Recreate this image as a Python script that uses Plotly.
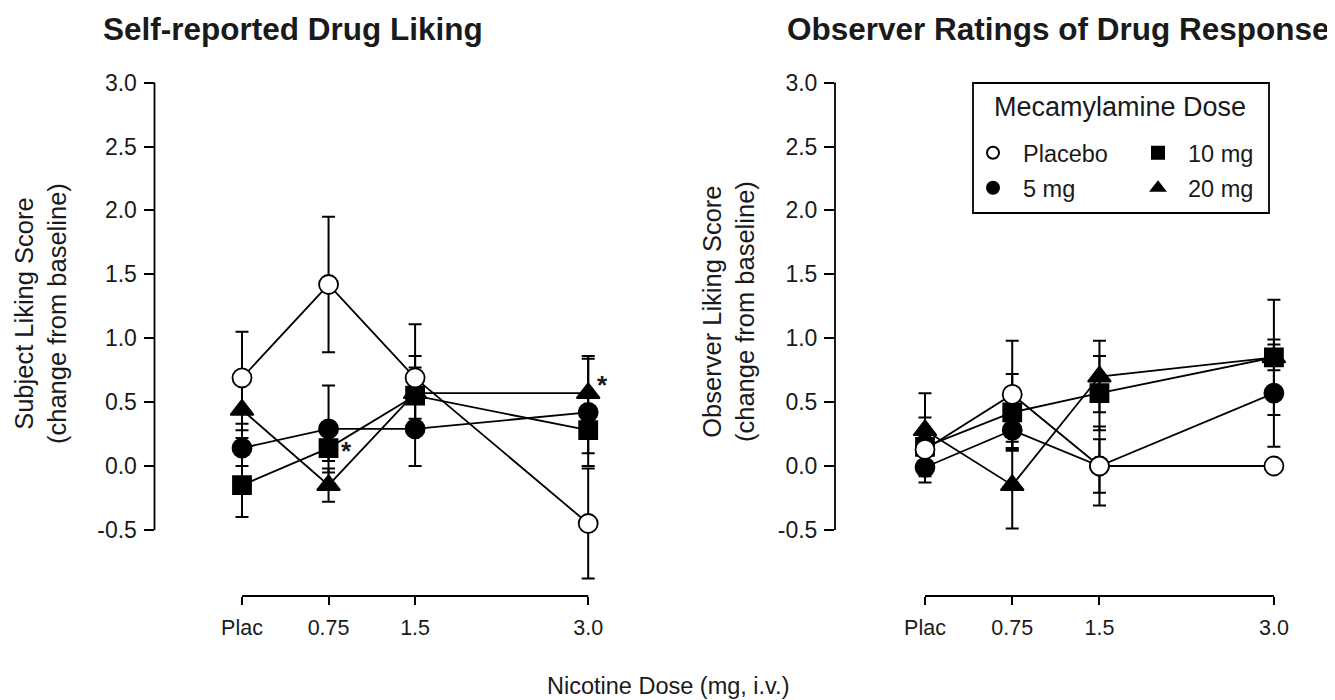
import plotly.graph_objects as go

# ---------------- data ----------------
doses = [0, 0.75, 1.5, 3.0]
dose_labels = ["Plac", "0.75", "1.5", "3.0"]
y_ticks = [-0.5, 0.0, 0.5, 1.0, 1.5, 2.0, 2.5, 3.0]
y_tick_labels = ["-0.5", "0.0", "0.5", "1.0", "1.5", "2.0", "2.5", "3.0"]

# Self-reported drug liking (left panel)
self_placebo = [0.69, 1.42, 0.69, -0.45]
self_placebo_err = [0.36, 0.53, 0.42, 0.43]
self_5mg = [0.14, 0.29, 0.29, 0.42]
self_5mg_err = [0.14, 0.34, 0.29, 0.42]
self_10mg = [-0.15, 0.14, 0.55, 0.28]
self_10mg_err = [0.25, 0.10, 0.31, 0.18]
self_20mg = [0.44, -0.15, 0.57, 0.57]
self_20mg_err = [0.22, 0.13, 0.20, 0.29]

# Observer ratings (right panel)
obs_placebo = [0.13, 0.56, 0.0, 0.0]
obs_placebo_err = [0.10, 0.42, 0.21, 0.0]
obs_5mg = [-0.01, 0.28, 0.0, 0.57]
obs_5mg_err = [0.12, 0.15, 0.31, 0.42]
obs_10mg = [0.15, 0.42, 0.57, 0.85]
obs_10mg_err = [0.23, 0.30, 0.29, 0.45]
obs_20mg = [0.28, -0.15, 0.70, 0.85]
obs_20mg_err = [0.29, 0.34, 0.28, 0.10]

# ---------------- geometry (px, in window coordinates) ----------------
OFF = 8                      # default page body margin
W, H = 1335 - OFF, 700 - OFF
FONT = "Liberation Sans, Arial, Helvetica, sans-serif"
INK = "#1a1a1a"


def fx(px):
    return (px - OFF) / W


def fy(px):
    return 1 - (px - OFF) / H


ppu = 127.8
y_top_px, y_bot_px = 70, 596
y_range = [(466 - y_bot_px) / ppu, (466 - y_top_px) / ppu]

left_dom = (154.5, 640)
left_x0, left_ppm = 242, 115.4
right_dom = (835, 1322)
right_x0, right_ppm = 925, 116.3

left_xrange = [(left_dom[0] - left_x0) / left_ppm, (left_dom[1] - left_x0) / left_ppm]
right_xrange = [(right_dom[0] - right_x0) / right_ppm, (right_dom[1] - right_x0) / right_ppm]

fig = go.Figure()

styles = {
    "Placebo": dict(symbol="circle", color="white", size=19),
    "5 mg": dict(symbol="circle", color="black", size=19),
    "10 mg": dict(symbol="square", color="black", size=18),
    "20 mg": dict(symbol="triangle-up", color="black", size=20),
}

left_data = {
    "Placebo": (self_placebo, self_placebo_err),
    "5 mg": (self_5mg, self_5mg_err),
    "10 mg": (self_10mg, self_10mg_err),
    "20 mg": (self_20mg, self_20mg_err),
}
right_data = {
    "Placebo": (obs_placebo, obs_placebo_err),
    "5 mg": (obs_5mg, obs_5mg_err),
    "10 mg": (obs_10mg, obs_10mg_err),
    "20 mg": (obs_20mg, obs_20mg_err),
}

draw_order = ["5 mg", "20 mg", "10 mg", "Placebo"]

for data, xa, ya in [(left_data, "x", "y"), (right_data, "x2", "y2")]:
    for name in draw_order:
        vals, errs = data[name]
        st = styles[name]
        fig.add_trace(go.Scatter(
            x=doses, y=vals, xaxis=xa, yaxis=ya,
            mode="lines+markers",
            line=dict(color="black", width=1.8),
            marker=dict(symbol=st["symbol"], size=st["size"], color=st["color"],
                        line=dict(color="black", width=1.8)),
            error_y=dict(type="data", array=errs, visible=True,
                         color="black", thickness=2, width=6.5),
            showlegend=False, name=name, cliponaxis=False,
        ))

# legend-only traces: two rows, each its own horizontal legend
legend_rows = {"Placebo": "legend", "10 mg": "legend", "5 mg": "legend2", "20 mg": "legend2"}
for name in ["Placebo", "10 mg", "5 mg", "20 mg"]:
    st = styles[name]
    fig.add_trace(go.Scatter(
        x=[None], y=[None], xaxis="x2", yaxis="y2", mode="markers", name=name,
        marker=dict(symbol=st["symbol"], size=st["size"], color=st["color"],
                    line=dict(color="black", width=1.8)),
        showlegend=True, legend=legend_rows[name],
    ))

axis_common = dict(
    showgrid=False, zeroline=False, showline=False,
    ticks="outside", tickwidth=1.8, tickcolor="black",
)
x_axis_extra = dict(ticklen=8, ticklabelstandoff=4,
                    tickfont=dict(family=FONT, size=21.5, color=INK))
y_axis_extra = dict(ticklen=10, ticklabelstandoff=2,
                    tickfont=dict(family=FONT, size=23, color=INK))

legend_common = dict(
    orientation="h", xanchor="left", yanchor="middle",
    borderwidth=0, bgcolor="rgba(0,0,0,0)",
    font=dict(family=FONT, size=23.5, color=INK),
    itemwidth=50, entrywidth=100, entrywidthmode="pixels", itemsizing="constant",
    traceorder="normal",
)

fig.update_layout(
    width=W, height=H,
    margin=dict(l=0, r=0, t=0, b=0),
    paper_bgcolor="white", plot_bgcolor="white",
    font=dict(family=FONT, color=INK),
    xaxis=dict(domain=[fx(left_dom[0]), fx(left_dom[1])], range=left_xrange,
               tickvals=doses, ticktext=dose_labels, anchor="y", **axis_common, **x_axis_extra),
    yaxis=dict(domain=[fy(y_bot_px), fy(y_top_px)], range=y_range,
               tickvals=y_ticks, ticktext=y_tick_labels, anchor="x", **axis_common, **y_axis_extra),
    xaxis2=dict(domain=[fx(right_dom[0]), fx(right_dom[1])], range=right_xrange,
                tickvals=doses, ticktext=dose_labels, anchor="y2", **axis_common, **x_axis_extra),
    yaxis2=dict(domain=[fy(y_bot_px), fy(y_top_px)], range=y_range,
                tickvals=y_ticks, ticktext=y_tick_labels, anchor="x2", **axis_common, **y_axis_extra),
    legend=dict(x=fx(963), y=fy(153), **legend_common),
    legend2=dict(x=fx(963), y=fy(188), **legend_common),
)

shapes = []
for xr, yr, xd, yd in [("x", "y", "x domain", "y domain"), ("x2", "y2", "x2 domain", "y2 domain")]:
    shapes.append(dict(type="line", xref=xd, yref=yr, x0=0, x1=0, y0=y_ticks[0], y1=y_ticks[-1],
                       line=dict(color="black", width=1.8)))
    shapes.append(dict(type="line", xref=xr, yref=yd, x0=doses[0], x1=doses[-1], y0=0, y1=0,
                       line=dict(color="black", width=1.8)))
# legend frame
shapes.append(dict(type="rect", xref="paper", yref="paper", x0=fx(973), x1=fx(1269),
                   y0=fy(213), y1=fy(83), line=dict(color="black", width=1.8)))
fig.update_layout(shapes=shapes)


def label(text, x, y, size, angle=0, xanchor="center", bold=False):
    if bold:
        text = "<b>" + text + "</b>"
    return dict(text=text, x=fx(x), y=fy(y), xref="paper", yref="paper",
                xanchor=xanchor, yanchor="middle", showarrow=False, textangle=angle,
                font=dict(family=FONT, size=size, color=INK))


ann = [
    label("Self-reported Drug Liking", 101, 29, 31.5, xanchor="left", bold=True),
    label("Observer Ratings of Drug Response", 785, 29, 31.5, xanchor="left", bold=True),
    label("Subject Liking Score<br>(change from baseline)", 41, 314, 25.5, angle=-90),
    label("Observer Liking Score<br>(change from baseline)", 728, 312, 25.5, angle=-90),
    label("Nicotine Dose (mg, i.v.)", 668, 686, 23.5),
    label("Mecamylamine Dose", 1120, 107, 27),
]
# significance asterisks
ann.append(dict(text="<b>*</b>", x=doses[1], y=self_10mg[1], xref="x", yref="y", showarrow=False,
                xshift=18, yshift=-3, font=dict(family=FONT, size=26, color=INK)))
ann.append(dict(text="<b>*</b>", x=doses[3], y=self_20mg[3], xref="x", yref="y", showarrow=False,
                xshift=14, yshift=8, font=dict(family=FONT, size=26, color=INK)))
fig.update_layout(annotations=ann)

fig.write_html("out.html")
